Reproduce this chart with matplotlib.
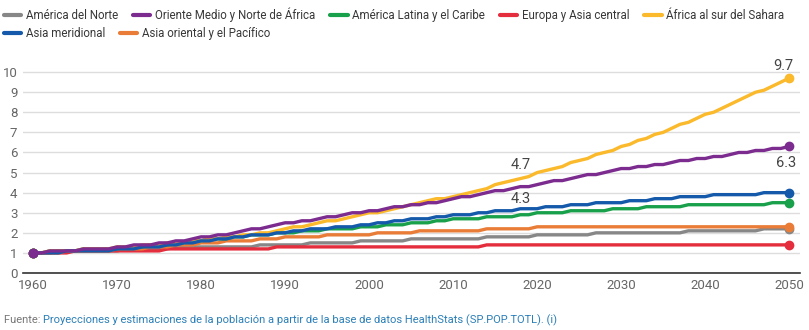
import numpy as np
import matplotlib.pyplot as plt

plt.rcParams['font.family'] = ['Roboto', 'DejaVu Sans']

years = list(range(1960, 2051))

# valores (1960 = 1)
norte = [1.0, 1.0, 1.0, 1.1, 1.1, 1.1, 1.1, 1.1, 1.1, 1.1,
         1.1, 1.2, 1.2, 1.2, 1.2, 1.2, 1.2, 1.3, 1.3, 1.3,
         1.3, 1.3, 1.3, 1.3, 1.3, 1.3, 1.3, 1.4, 1.4, 1.4,
         1.4, 1.4, 1.4, 1.5, 1.5, 1.5, 1.5, 1.5, 1.5, 1.6,
         1.6, 1.6, 1.6, 1.6, 1.6, 1.7, 1.7, 1.7, 1.7, 1.7,
         1.7, 1.7, 1.7, 1.7, 1.8, 1.8, 1.8, 1.8, 1.8, 1.8,
         1.9, 1.9, 1.9, 1.9, 1.9, 1.9, 1.9, 2.0, 2.0, 2.0,
         2.0, 2.0, 2.0, 2.0, 2.0, 2.0, 2.0, 2.0, 2.1, 2.1,
         2.1, 2.1, 2.1, 2.1, 2.1, 2.1, 2.1, 2.2, 2.2, 2.2,
         2.2]
oriente = [1.0, 1.0, 1.1, 1.1, 1.1, 1.1, 1.2, 1.2, 1.2, 1.2,
           1.3, 1.3, 1.4, 1.4, 1.4, 1.5, 1.5, 1.6, 1.6, 1.7,
           1.8, 1.8, 1.9, 1.9, 2.0, 2.1, 2.2, 2.2, 2.3, 2.4,
           2.5, 2.5, 2.6, 2.6, 2.7, 2.8, 2.8, 2.9, 3.0, 3.0,
           3.1, 3.1, 3.2, 3.3, 3.3, 3.4, 3.4, 3.5, 3.5, 3.6,
           3.7, 3.8, 3.8, 3.9, 4.0, 4.1, 4.1, 4.2, 4.3, 4.3,
           4.4, 4.5, 4.6, 4.6, 4.7, 4.8, 4.9, 4.9, 5.0, 5.1,
           5.2, 5.2, 5.3, 5.3, 5.4, 5.4, 5.5, 5.6, 5.6, 5.7,
           5.7, 5.8, 5.8, 5.9, 6.0, 6.0, 6.1, 6.1, 6.2, 6.2,
           6.3]
latina = [1.0, 1.0, 1.1, 1.1, 1.1, 1.1, 1.2, 1.2, 1.2, 1.2,
          1.2, 1.3, 1.3, 1.3, 1.4, 1.4, 1.4, 1.5, 1.5, 1.6,
          1.6, 1.7, 1.7, 1.7, 1.8, 1.8, 1.9, 1.9, 1.9, 2.0,
          2.0, 2.0, 2.1, 2.1, 2.1, 2.2, 2.2, 2.2, 2.2, 2.3,
          2.3, 2.3, 2.4, 2.4, 2.4, 2.5, 2.5, 2.5, 2.6, 2.6,
          2.7, 2.7, 2.7, 2.7, 2.8, 2.8, 2.8, 2.8, 2.9, 2.9,
          3.0, 3.0, 3.0, 3.0, 3.1, 3.1, 3.1, 3.1, 3.1, 3.2,
          3.2, 3.2, 3.2, 3.3, 3.3, 3.3, 3.3, 3.3, 3.4, 3.4,
          3.4, 3.4, 3.4, 3.4, 3.4, 3.4, 3.4, 3.4, 3.5, 3.5,
          3.5]
europa = [1.0, 1.0, 1.0, 1.0, 1.0, 1.1, 1.1, 1.1, 1.1, 1.1,
          1.1, 1.1, 1.1, 1.1, 1.1, 1.1, 1.2, 1.2, 1.2, 1.2,
          1.2, 1.2, 1.2, 1.2, 1.2, 1.2, 1.2, 1.2, 1.2, 1.3,
          1.3, 1.3, 1.3, 1.3, 1.3, 1.3, 1.3, 1.3, 1.3, 1.3,
          1.3, 1.3, 1.3, 1.3, 1.3, 1.3, 1.3, 1.3, 1.3, 1.3,
          1.3, 1.3, 1.3, 1.3, 1.4, 1.4, 1.4, 1.4, 1.4, 1.4,
          1.4, 1.4, 1.4, 1.4, 1.4, 1.4, 1.4, 1.4, 1.4, 1.4,
          1.4, 1.4, 1.4, 1.4, 1.4, 1.4, 1.4, 1.4, 1.4, 1.4,
          1.4, 1.4, 1.4, 1.4, 1.4, 1.4, 1.4, 1.4, 1.4, 1.4,
          1.4]
africa = [1.0, 1.0, 1.1, 1.1, 1.1, 1.1, 1.2, 1.2, 1.2, 1.2,
          1.3, 1.3, 1.3, 1.4, 1.4, 1.4, 1.5, 1.5, 1.5, 1.6,
          1.6, 1.7, 1.7, 1.8, 1.8, 1.9, 1.9, 2.0, 2.0, 2.1,
          2.2, 2.3, 2.3, 2.4, 2.5, 2.6, 2.6, 2.7, 2.8, 2.9,
          3.0, 3.0, 3.1, 3.2, 3.3, 3.4, 3.5, 3.6, 3.7, 3.7,
          3.8, 3.9, 4.0, 4.1, 4.2, 4.4, 4.5, 4.6, 4.7, 4.8,
          5.0, 5.1, 5.2, 5.3, 5.5, 5.6, 5.7, 5.9, 6.0, 6.1,
          6.3, 6.4, 6.6, 6.7, 6.9, 7.0, 7.2, 7.4, 7.5, 7.7,
          7.9, 8.0, 8.2, 8.4, 8.6, 8.8, 9.0, 9.1, 9.3, 9.5,
          9.7]
meridional = [1.0, 1.0, 1.0, 1.0, 1.1, 1.1, 1.1, 1.1, 1.1, 1.1,
              1.2, 1.2, 1.2, 1.3, 1.3, 1.3, 1.4, 1.4, 1.5, 1.5,
              1.6, 1.6, 1.7, 1.7, 1.8, 1.8, 1.9, 1.9, 1.9, 2.0,
              2.0, 2.1, 2.1, 2.2, 2.2, 2.2, 2.3, 2.3, 2.3, 2.4,
              2.4, 2.5, 2.5, 2.6, 2.6, 2.7, 2.7, 2.7, 2.8, 2.8,
              2.9, 2.9, 2.9, 3.0, 3.0, 3.1, 3.1, 3.1, 3.2, 3.2,
              3.2, 3.3, 3.3, 3.3, 3.4, 3.4, 3.4, 3.5, 3.5, 3.5,
              3.5, 3.6, 3.6, 3.6, 3.7, 3.7, 3.7, 3.8, 3.8, 3.8,
              3.8, 3.9, 3.9, 3.9, 3.9, 3.9, 3.9, 4.0, 4.0, 4.0,
              4.0]
pacifico = [1.0, 1.0, 1.0, 1.0, 1.1, 1.1, 1.1, 1.1, 1.1, 1.1,
            1.2, 1.2, 1.2, 1.2, 1.3, 1.3, 1.3, 1.4, 1.4, 1.4,
            1.5, 1.5, 1.5, 1.6, 1.6, 1.6, 1.6, 1.7, 1.7, 1.7,
            1.8, 1.8, 1.8, 1.8, 1.8, 1.9, 1.9, 1.9, 1.9, 1.9,
            1.9, 2.0, 2.0, 2.0, 2.0, 2.0, 2.1, 2.1, 2.1, 2.1,
            2.1, 2.1, 2.1, 2.1, 2.2, 2.2, 2.2, 2.2, 2.2, 2.2,
            2.3, 2.3, 2.3, 2.3, 2.3, 2.3, 2.3, 2.3, 2.3, 2.3,
            2.3, 2.3, 2.3, 2.3, 2.3, 2.3, 2.3, 2.3, 2.3, 2.3,
            2.3, 2.3, 2.3, 2.3, 2.3, 2.3, 2.3, 2.3, 2.3, 2.3,
            2.3]

names = ['América del Norte', 'Oriente Medio y Norte de África',
         'América Latina y el Caribe', 'Europa y Asia central',
         'África al sur del Sahara', 'Asia meridional',
         'Asia oriental y el Pacífico']
series = [norte, oriente, latina, europa, africa, meridional, pacifico]
colors = ['#878787', '#7c2b8f', '#19a04b', '#e42d3d', '#fbb92c', '#155aaa', '#e97c36']
zorders = [3, 9, 4, 3, 5, 6, 3]

fig = plt.figure(figsize=(8.09, 3.30), dpi=100)
ax = fig.add_axes([0.0284, 0.1727, 0.9606, 0.627])

handles = []
for vals, name, c, z in zip(series, names, colors, zorders):
    h, = ax.plot(years, vals, color=c, lw=2.4, label=name, zorder=z,
                 solid_capstyle='round', solid_joinstyle='round')
    ax.plot([years[0], years[-1]], [vals[0], vals[-1]], 'o', color=c,
            ms=6, zorder=z)
    handles.append(h)

ax.set_xlim(1958.8, 2051.3)
ax.set_ylim(0, 10.3)
ax.set_xticks(range(1960, 2051, 10))
ax.set_yticks(range(0, 11))
ax.grid(axis='y', color='#dddddd', lw=1)
ax.set_axisbelow(True)
for s in ['top', 'right', 'left']:
    ax.spines[s].set_visible(False)
ax.spines['bottom'].set_color('#333333')
ax.spines['bottom'].set_linewidth(1.2)
ax.tick_params(length=0, labelsize=9.5, labelcolor='#666666')
ax.tick_params(axis='y', pad=4)
ax.tick_params(axis='x', pad=4)

# etiquetas de valores
txt = dict(fontsize=10.5, color='#444444', ha='center', va='center')
ax.annotate('9.7', (2050, africa[-1]), xytext=(-4, 9), textcoords='offset points', **txt)
ax.annotate('6.3', (2050, oriente[-1]), xytext=(-2, -12), textcoords='offset points', **txt)
ax.annotate('4.7', (2018, africa[58]), xytext=(0, 10), textcoords='offset points', **txt)
ax.annotate('4.3', (2018, oriente[58]), xytext=(0, -9), textcoords='offset points', **txt)

# leyenda en dos filas
leg_kw = dict(frameon=False, fontsize=8.3, handlelength=1.5, handletextpad=0.4,
              columnspacing=1.3, borderaxespad=0, borderpad=0,
              labelcolor='#383838')
leg1 = fig.legend(handles[:5], names[:5], ncol=5, loc='upper left',
                  bbox_to_anchor=(0.005, 0.978), **leg_kw)
leg2 = fig.legend(handles[5:], names[5:], ncol=2, loc='upper left',
                  bbox_to_anchor=(0.005, 0.917), **leg_kw)
for lg in (leg1, leg2):
    for ln in lg.get_lines():
        ln.set_linewidth(3)

t1 = fig.text(0.005, 0.03, 'Fuente: ', fontsize=8, color='#777777', va='center')
ax.annotate('Proyecciones y estimaciones de la población a partir de la base de datos HealthStats (SP.POP.TOTL). (i)',
            xy=(1, 0.5), xycoords=t1, va='center', ha='left', fontsize=8, color='#2a7fb8')

fig.savefig('out.png', dpi=100)
